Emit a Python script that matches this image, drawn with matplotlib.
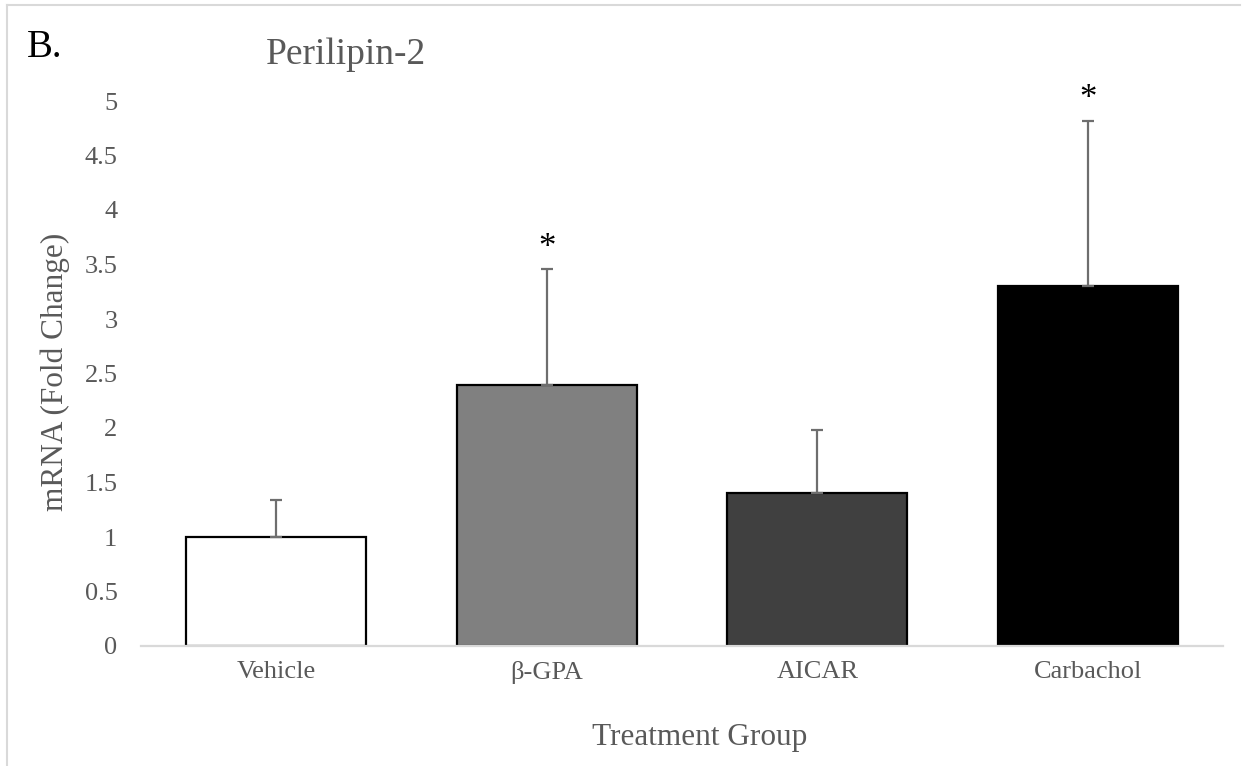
"""Perilipin-2 mRNA fold change by treatment group."""

import matplotlib

matplotlib.use("Agg")
import matplotlib.pyplot as plt
from matplotlib.lines import Line2D

groups = ["Vehicle", "β-GPA", "AICAR", "Carbachol"]
fold_change = [1.0, 2.39, 1.40, 3.30]
upper_err = [0.34, 1.07, 0.58, 1.52]
significant = [False, True, False, True]
bar_colors = ["#FFFFFF", "#808080", "#404040", "#000000"]
y_ticks = [0, 0.5, 1, 1.5, 2, 2.5, 3, 3.5, 4, 4.5, 5]
y_tick_labels = ["0", "0.5", "1", "1.5", "2", "2.5", "3", "3.5", "4", "4.5", "5"]

TEXT_GRAY = "#595959"
LINE_GRAY = "#D9D9D9"

plt.rcParams["font.family"] = ["Liberation Serif", "DejaVu Serif"]

fig = plt.figure(figsize=(12.5, 7.66), dpi=100)
ax = fig.add_axes([141 / 1250, 120 / 766, 1082 / 1250, 545 / 766])

x = list(range(len(groups)))
ax.bar(x, fold_change, width=0.665, color=bar_colors, edgecolor="black", linewidth=1.6, zorder=2)
ax.errorbar(
    x,
    fold_change,
    yerr=[[0] * len(x), upper_err],
    fmt="none",
    ecolor="#6E6E6E",
    elinewidth=1.6,
    capsize=4.6,
    capthick=1.6,
    zorder=3,
)
for xi, val, err, sig in zip(x, fold_change, upper_err, significant):
    if sig:
        ax.annotate("*", (xi, val + err), xytext=(0, 3), textcoords="offset points",
                    ha="center", va="bottom", fontsize=25, color="black")

ax.set_xlim(-0.5, len(groups) - 0.5)
ax.set_ylim(0, 5)
ax.set_yticks(y_ticks)
ax.set_yticklabels(y_tick_labels)
ax.set_xticks(x)
ax.set_xticklabels(groups)
ax.tick_params(axis="y", length=0, pad=17, labelsize=19, labelcolor=TEXT_GRAY)
ax.tick_params(axis="x", length=0, pad=11, labelsize=19, labelcolor=TEXT_GRAY)

for side in ["top", "right", "left"]:
    ax.spines[side].set_visible(False)
ax.spines["bottom"].set_color(LINE_GRAY)
ax.spines["bottom"].set_linewidth(1.6)
ax.spines["bottom"].set_zorder(4)

fig.text(700 / 1250, 1 - 737 / 766, "Treatment Group", ha="center", va="center",
         fontsize=22.5, color=TEXT_GRAY)
fig.text(55 / 1250, 1 - 372 / 766, "mRNA (Fold Change)", ha="center", va="center",
         rotation=90, fontsize=22.5, color=TEXT_GRAY)
fig.text(266 / 1250, 1 - 64 / 766, "Perilipin-2", ha="left", va="baseline",
         fontsize=27, color=TEXT_GRAY)
fig.text(27 / 1250, 1 - 57 / 766, "B.", ha="left", va="baseline", fontsize=28, color="black")

# light frame on the top and left edges
fig.add_artist(Line2D([7 / 1250, 7 / 1250], [0, 1 - 5 / 766], color=LINE_GRAY, linewidth=1.5))
fig.add_artist(Line2D([7 / 1250, 1240 / 1250], [1 - 5 / 766, 1 - 5 / 766], color=LINE_GRAY, linewidth=1.5))

fig.savefig("out.png", dpi=100)
